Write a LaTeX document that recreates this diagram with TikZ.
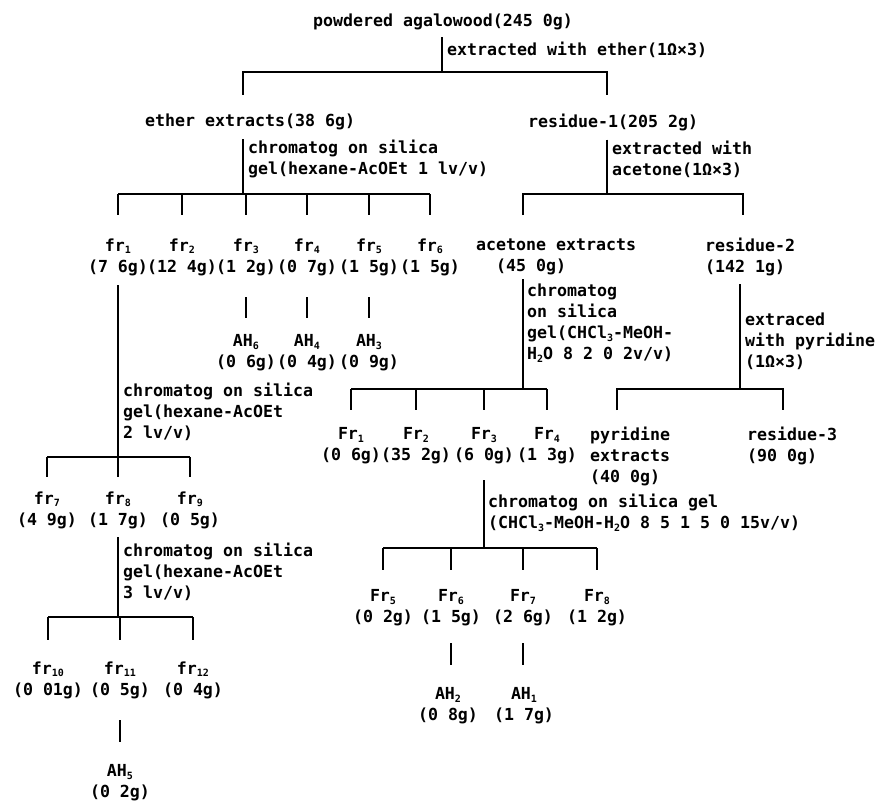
\documentclass[tikz,border=0pt]{standalone}
\usepackage{fontspec}
\setmonofont{DejaVu Sans Mono}
\usepackage{tikz}

\newcommand{\sub}[1]{\raisebox{-2.5pt}{\fontsize{10}{10}\selectfont #1}}

\tikzset{
  txt/.style={font=\ttfamily\bfseries\fontsize{16.6}{21}\selectfont, inner sep=0pt, align=center},
  lbl/.style={txt, anchor=west, align=left},
  bar/.style={line width=1.8pt},
}

\begin{document}
\begin{tikzpicture}[x=1pt,y=-1pt]
\useasboundingbox (0,0) rectangle (882,805);

% Agalwood
\node[txt] (agal) at (443,22) {powdered agalowood(245 0g)};
\node[lbl] (ext0) at (447,50) {extracted with ether(1Ω×3)};
\coordinate (b0) at (442,72);
\coordinate (b0l) at (243,72);
\coordinate (b0r) at (607,72);
\draw[bar] (agal.south -| b0) ++(0,7) -- (b0);
\draw[bar] (b0l) ++(0,23) -- (b0l) -- (b0r) -- ++(0,23);

% Ether extracts
\node[lbl] (ether) at (145,122) {ether extracts(38 6g)};
\node[lbl] (chr1) at (248,159) {chromatog on silica\\gel(hexane-AcOEt 1 lv/v)};
\coordinate (b1) at (243,194);
\draw[bar] (ether.south -| b1) ++(0,9) -- (b1);

\node[txt] (fr1) at (118,257) {fr\sub1\\(7 6g)};
\node[txt] (fr2) at (182,257) {fr\sub2\\(12 4g)};
\node[txt] (fr3) at (246,257) {fr\sub3\\(1 2g)};
\node[txt] (fr4) at (307,257) {fr\sub4\\(0 7g)};
\node[txt] (fr5) at (369,257) {fr\sub5\\(1 5g)};
\node[txt] (fr6) at (430,257) {fr\sub6\\(1 5g)};

\draw[bar] (fr1 |- b1) -- (fr6 |- b1);
\foreach \n in {1,...,6}
  \draw[bar] (fr\n |- b1) -- ++(0,21);

% AH from fr3, fr4, fr5
\node[txt] (ah6) at (246,353) {AH\sub6\\(0 6g)};
\node[txt] (ah4) at (307,353) {AH\sub4\\(0 4g)};
\node[txt] (ah3) at (369,353) {AH\sub3\\(0 9g)};
\draw[bar] (fr3) ++(0,40) -- ++(0,21);
\draw[bar] (fr4) ++(0,40) -- ++(0,21);
\draw[bar] (fr5) ++(0,40) -- ++(0,21);

% fr1 column
\node[lbl] (chr2) at (123,412) {chromatog on silica\\gel(hexane-AcOEt\\2 lv/v)};
\coordinate (b3) at (0,457);
\node[txt] (fr7) at (47,510) {fr\sub7\\(4 9g)};
\node[txt] (fr8) at (118,510) {fr\sub8\\(1 7g)};
\node[txt] (fr9) at (190,510) {fr\sub9\\(0 5g)};
\draw[bar] (fr1) ++(0,28) -- (fr1 |- b3);
\draw[bar] (fr7 |- b3) -- (fr9 |- b3);
\foreach \n in {7,8,9}
  \draw[bar] (fr\n |- b3) -- ++(0,20);

\node[lbl] (chr5) at (123,572) {chromatog on silica\\gel(hexane-AcOEt\\3 lv/v)};
\coordinate (b9) at (0,617);
\node[txt] (fr10) at (48,680) {fr\sub{10}\\(0 01g)};
\node[txt] (fr11) at (120,680) {fr\sub{11}\\(0 5g)};
\node[txt] (fr12) at (193,680) {fr\sub{12}\\(0 4g)};
\draw[bar] (fr8) ++(0,27) -- (fr8 |- b9);
\draw[bar] (fr10 |- b9) -- (fr12 |- b9);
\foreach \n in {10,11,12}
  \draw[bar] (fr\n |- b9) -- ++(0,23);

\node[txt] (ah5) at (120,783) {AH\sub5\\(0 2g)};
\draw[bar] (fr11) ++(0,40) -- ++(0,22);

% Residue-1
\node[lbl] (res1) at (528,122) {residue-1(205 2g)};
\node[lbl] (ext1) at (612,159) {extracted with\\acetone(1Ω×3)};
\coordinate (b2) at (607,194);
\coordinate (b2l) at (523,194);
\coordinate (b2r) at (743,194);
\draw[bar] (res1.south -| b2) ++(0,9) -- (b2);
\draw[bar] (b2l) ++(0,21) -- (b2l) -- (b2r) -- ++(0,21);

\node[lbl] (acet) at (476,257) {acetone extracts\\\hphantom{ac}(45 0g)};
\node[lbl] (res2) at (705,257) {residue-2\\(142 1g)};

% Acetone extracts
\node[lbl] (chr3) at (527,323) {chromatog\\on silica\\gel(CHCl\sub3-MeOH-\\H\sub2O 8 2 0 2v/v)};
\coordinate (b5) at (523,389);
\draw[bar] (acet.south -| b5) ++(0,4) -- (b5);

\node[txt] (Fr1) at (351,446) {Fr\sub1\\(0 6g)};
\node[txt] (Fr2) at (416,446) {Fr\sub2\\(35 2g)};
\node[txt] (Fr3) at (484,446) {Fr\sub3\\(6 0g)};
\node[txt] (Fr4) at (547,446) {Fr\sub4\\(1 3g)};
\draw[bar] (Fr1 |- b5) -- (Fr4 |- b5);
\foreach \n in {1,...,4}
  \draw[bar] (Fr\n |- b5) -- ++(0,21);

% Residue-2
\node[lbl] (ext2) at (745,341) {extraced\\with pyridine\\(1Ω×3)};
\coordinate (b6) at (740,389);
\coordinate (b6l) at (617,389);
\coordinate (b6r) at (783,389);
\draw[bar] (res2.south -| b6) ++(0,8) -- (b6);
\draw[bar] (b6l) ++(0,21) -- (b6l) -- (b6r) -- ++(0,21);
\node[lbl] (pyr) at (590,456) {pyridine\\extracts\\(40 0g)};
\node[lbl] (res3) at (747,446) {residue-3\\(90 0g)};

% Fr3
\node[lbl] (chr4) at (488,513) {chromatog on silica gel\\(CHCl\sub3-MeOH-H\sub2O 8 5 1 5 0 15v/v)};
\coordinate (b7) at (0,548);
\draw[bar] (Fr3) ++(0,34) -- (Fr3 |- b7);

\node[txt] (Fr5) at (383,608) {Fr\sub5\\(0 2g)};
\node[txt] (Fr6) at (451,608) {Fr\sub6\\(1 5g)};
\node[txt] (Fr7) at (523,608) {Fr\sub7\\(2 6g)};
\node[txt] (Fr8) at (597,608) {Fr\sub8\\(1 2g)};
\draw[bar] (Fr5 |- b7) -- (Fr8 |- b7);
\foreach \n in {5,...,8}
  \draw[bar] (Fr\n |- b7) -- ++(0,22);

\node[txt] (ah2) at (448,706) {AH\sub2\\(0 8g)};
\node[txt] (ah1) at (524,706) {AH\sub1\\(1 7g)};
\draw[bar] (Fr6) ++(0,35) -- ++(0,22);
\draw[bar] (Fr7) ++(0,35) -- ++(0,22);

\end{tikzpicture}
\end{document}
